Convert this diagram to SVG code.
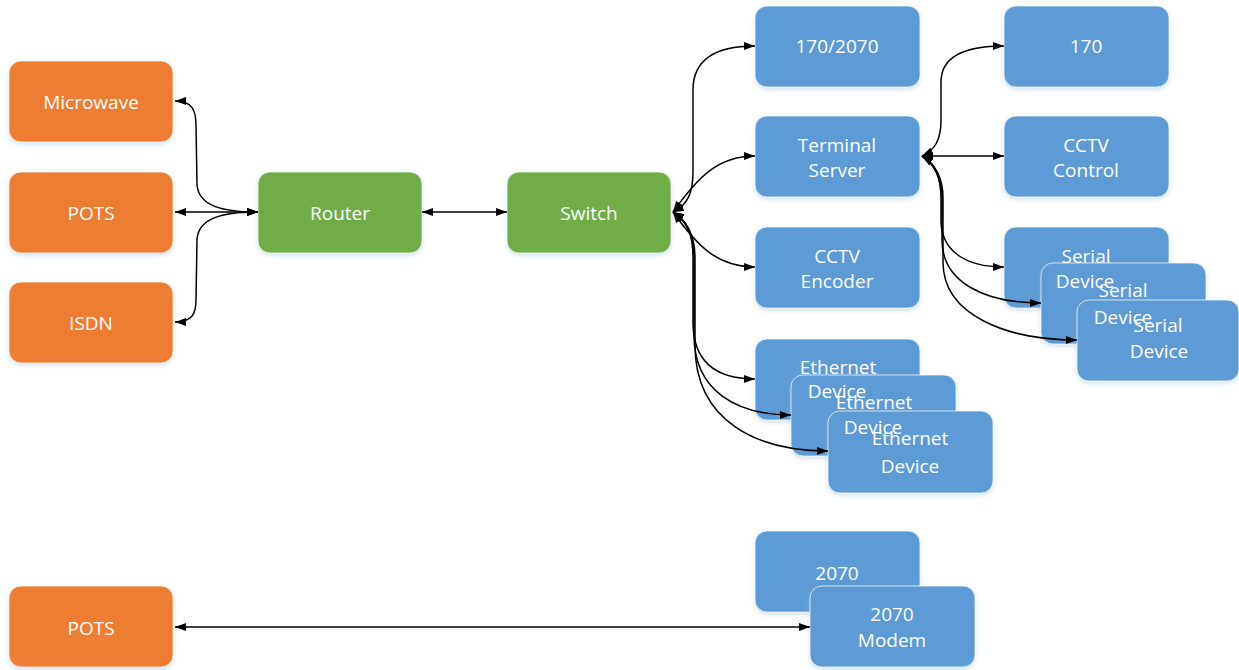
<svg xmlns="http://www.w3.org/2000/svg" width="1239" height="670" viewBox="0 0 1239 670">
<defs>
<filter id="sh" x="-10%" y="-10%" width="120%" height="130%">
<feDropShadow dx="0" dy="2" stdDeviation="2" flood-color="#9dc3e6" flood-opacity="0.5"/>
</filter>
<marker id="ah" viewBox="0 0 11 8" refX="11" refY="4" markerWidth="11" markerHeight="8" markerUnits="userSpaceOnUse" orient="auto-start-reverse">
<path d="M0,0 L11,4 L0,8 z" fill="#000"/>
</marker>
</defs>
<style>
rect{rx:12px;ry:12px;stroke:#ffffff;stroke-opacity:0.7;stroke-width:1;filter:url(#sh)}
.o{fill:#ED7D31}
.g{fill:#70AD47}
.b{fill:#5B9BD5}
text{font-family:"Open Sans","Liberation Sans",sans-serif;font-size:19px;fill:#ffffff;text-anchor:middle;dominant-baseline:central}
.c path{fill:none;stroke:#000;stroke-width:1.5;marker-start:url(#ah);marker-end:url(#ah)}
</style>
<rect x="0" y="0" width="1239" height="670" style="fill:#fff;stroke:none;filter:none"/>
<g id="nodes">
<g id="microwave"><rect class="o" x="9" y="61" width="164" height="81"/><text x="91" y="102">Microwave</text></g>
<g id="pots"><rect class="o" x="9" y="172" width="164" height="81"/><text x="91" y="213">POTS</text></g>
<g id="isdn"><rect class="o" x="9" y="282" width="164" height="81"/><text x="91" y="323">ISDN</text></g>
<g id="router"><rect class="g" x="258" y="172" width="164" height="81"/><text x="340" y="213">Router</text></g>
<g id="switch"><rect class="g" x="507" y="172" width="164" height="81"/><text x="589" y="213">Switch</text></g>
<g id="n170-2070"><rect class="b" x="755" y="6" width="165" height="81"/><text x="837" y="46">170/2070</text></g>
<g id="terminal-server"><rect class="b" x="755" y="116" width="165" height="81"/><text x="837" y="145">Terminal</text><text x="837" y="170">Server</text></g>
<g id="cctv-encoder"><rect class="b" x="755" y="227" width="165" height="81"/><text x="837" y="256">CCTV</text><text x="837" y="281">Encoder</text></g>
<g id="ethernet-1"><rect class="b" x="755" y="339" width="165" height="81"/></g>
<g id="ethernet-2"><rect class="b" x="791" y="375" width="165" height="81"/></g>
<g id="ethernet-3"><rect class="b" x="828" y="411" width="165" height="82"/></g>
<g id="ethernet-labels"><text x="838" y="367">Ethernet</text><text x="837" y="391">Device</text><text x="874" y="402">Ethernet</text><text x="873" y="427">Device</text><text x="910" y="438">Ethernet</text><text x="910" y="466">Device</text></g>
<g id="n170"><rect class="b" x="1004" y="6" width="165" height="81"/><text x="1086" y="46">170</text></g>
<g id="cctv-control"><rect class="b" x="1004" y="116" width="165" height="81"/><text x="1086" y="145">CCTV</text><text x="1086" y="170">Control</text></g>
<g id="serial-1"><rect class="b" x="1004" y="227" width="165" height="81"/></g>
<g id="serial-2"><rect class="b" x="1041" y="263" width="165" height="81"/></g>
<g id="serial-3"><rect class="b" x="1077" y="300" width="162" height="81"/></g>
<g id="serial-labels"><text x="1086" y="256">Serial</text><text x="1085" y="281">Device</text><text x="1123" y="290">Serial</text><text x="1123" y="317">Device</text><text x="1158" y="325">Serial</text><text x="1159" y="351">Device</text></g>
<g id="n2070"><rect class="b" x="755" y="531" width="165" height="81"/></g>
<g id="n2070-modem"><rect class="b" x="810" y="586" width="165" height="81"/><text x="892" y="614">2070</text><text x="892" y="640">Modem</text></g>
<g id="n2070-label"><text x="837" y="573">2070</text></g>
<g id="pots-2"><rect class="o" x="9" y="586" width="164" height="81"/><text x="91" y="628">POTS</text></g>
</g>
<g id="connectors" class="c">
<path d="M258 212 C222 212 199 206 197 185 L196 125 C196 110 192 101 175 101"/>
<path d="M258 212 L175 212"/>
<path d="M258 212 C222 212 199 218 197 239 L196 300 C196 314 192 322 175 322"/>
<path d="M422 212 L507 212"/>
<path d="M673 212 C688 205 693 192 693 172 L693 90 C693 60 714 46 755 46"/>
<path d="M673 212 C698 177 718 156 755 156"/>
<path d="M673 212 C698 247 718 267 755 267"/>
<path d="M673 212 C689 222 693 238 693 258 L693 322 C693 360 714 379 755 379"/>
<path d="M673 212 C689 222 694 238 694 258 L694 335 C694 392 738 415 791 415"/>
<path d="M673 212 C689 222 695 238 695 258 L695 345 C695 422 758 451 828 451"/>
<path d="M922 156 C935 150 941 140 941 120 L941 82 C941 58 962 46 1004 46"/>
<path d="M922 156 L1004 156"/>
<path d="M922 156 C935 164 941 178 941 198 L941 220 C941 250 964 267 1004 267"/>
<path d="M922 156 C935 164 942 178 942 198 L942 240 C942 282 984 303 1041 303"/>
<path d="M922 156 C935 164 943 178 943 198 L943 262 C943 316 1008 340 1077 340"/>
<path d="M175 627 L810 627"/>
</g>
</svg>
